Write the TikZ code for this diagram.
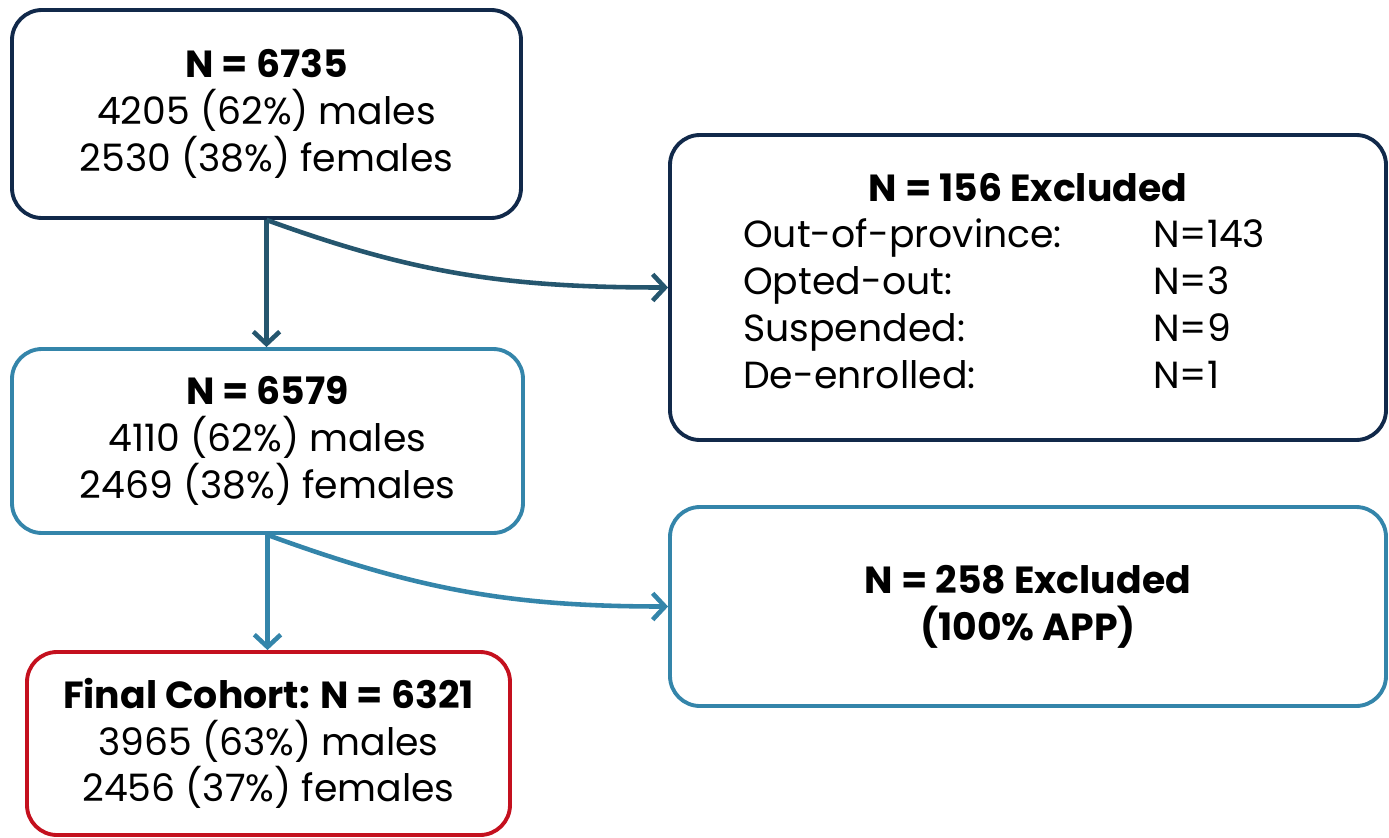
\documentclass[tikz,border=0pt]{standalone}
\usepackage{fontspec}
\setmainfont{Poppins}
\usepackage{tikz}
\usetikzlibrary{arrows.meta, positioning, calc}
\definecolor{navy}{HTML}{11294A}
\definecolor{navyarrow}{HTML}{25566E}
\definecolor{teal}{HTML}{3485AA}
\definecolor{cohortred}{HTML}{C4101E}

\begin{document}
\begin{tikzpicture}[
    every node/.style={font=\fontsize{21.5}{26.6}\selectfont},
    box/.style={draw, line width=2.2pt, rounded corners=0.6cm, align=center,
                fill=white},
    navybox/.style={box, draw=navy},
    tealbox/.style={box, draw=teal},
    finalbox/.style={box, draw=cohortred},
    flow/.style={line width=2.6pt, -{Straight Barb[length=7pt, width=15pt]}}
]
    \useasboundingbox (0,0) rectangle (27.78,-16.74);

    % Main cohort column
    \node[navybox, minimum width=10.18cm, minimum height=4.16cm] (start) at (5.33, -2.28)
        {\textbf{N = 6735}\\4205 (62\%) males\\2530 (38\%) females};
    \node[tealbox, minimum width=10.22cm, minimum height=3.68cm] (mid) at (5.35, -8.82)
        {\textbf{N = 6579}\\4110 (62\%) males\\2469 (38\%) females};
    \node[finalbox, minimum width=9.66cm, minimum height=3.66cm] (final) at (5.37, -14.87)
        {\textbf{Final Cohort: N = 6321}\\3965 (63\%) males\\2456 (37\%) females};

    % Exclusion boxes
    \node[navybox, minimum width=14.32cm, minimum height=6.10cm] (excl1) at (20.56, -5.75)
        {\textbf{N = 156 Excluded}\\
         \begin{tabular}[t]{@{\hspace{-0.95cm}}p{8.2cm}@{}l@{}}
         Out-of-province: & N=143\\
         Opted-out:       & N=3\\
         Suspended:       & N=9\\
         De-enrolled:     & N=1
         \end{tabular}};
    \node[tealbox, minimum width=14.32cm, minimum height=3.98cm] (excl2) at (20.56, -12.13)
        {\textbf{N = 258 Excluded}\\\textbf{(100\% APP)}};

    % Connectors
    \draw[flow, navyarrow] (start.south) -- (start.south |- mid.north);
    \draw[flow, navyarrow] (start.south) to[out=-20, in=180] (excl1.west);
    \draw[flow, teal] (mid.south) -- (mid.south |- final.north);
    \draw[flow, teal] (mid.south) to[out=-20, in=180] (excl2.west);
\end{tikzpicture}
\end{document}
